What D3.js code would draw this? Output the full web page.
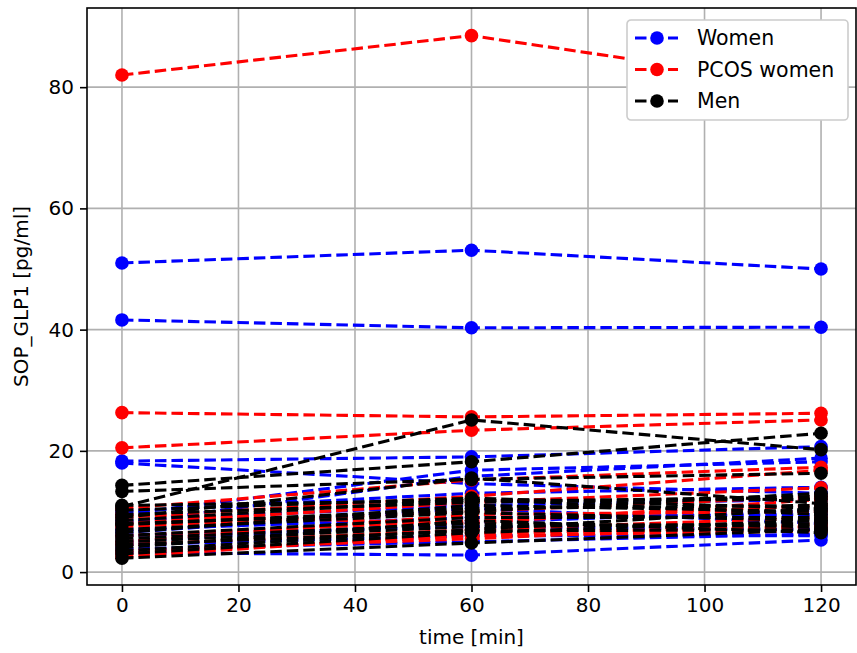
<!DOCTYPE html>
<html>
<head>
<meta charset="utf-8">
<script src="https://cdn.jsdelivr.net/npm/d3@7"></script>
<style>
  body { margin: 0; background: #fff; }
  text { font-family: "DejaVu Sans", sans-serif; }
</style>
</head>
<body>
<div id="chart-area"></div>
<script>
// time points and per-subject values [0, 60, 120 min]
const times = [0, 60, 120]
const xTicks = [0, 20, 40, 60, 80, 100, 120]
const yTicks = [0, 20, 40, 60, 80]

const women = [
  [51.0, 53.1, 50.0],
  [41.6, 40.3, 40.4],
  [18.3, 19.0, 20.7],
  [18.0, 14.6, 13.0],
  [9.5, 16.8, 18.2],
  [8.0, 15.8, 18.8],
  [3.2, 2.8, 5.3],
  [4.5, 6.0, 6.0],
  [6.0, 7.5, 7.0],
  [7.0, 9.0, 9.5],
  [5.0, 8.2, 10.2],
  [8.5, 11.0, 12.0],
  [3.8, 5.0, 6.3],
  [10.0, 13.0, 14.0],
  [6.5, 10.5, 8.0]
]

const pcos = [
  [82.0, 88.5, 80.0],
  [26.3, 25.6, 26.2],
  [20.5, 23.4, 25.1],
  [10.5, 15.2, 17.3],
  [9.0, 12.5, 16.8],
  [3.5, 5.5, 8.0],
  [2.5, 6.4, 7.5],
  [4.5, 7.0, 9.0],
  [6.0, 8.5, 11.0],
  [7.5, 10.0, 12.5],
  [8.0, 11.5, 13.9],
  [5.0, 9.5, 10.0],
  [3.0, 6.0, 6.8],
  [9.5, 8.0, 12.0]
]

const men = [
  [10.8, 25.1, 20.2],
  [14.3, 18.2, 22.9],
  [13.3, 15.3, 16.3],
  [9.0, 15.5, 11.3],
  [2.3, 4.8, 7.0],
  [10.2, 12.2, 10.5],
  [9.5, 11.5, 12.5],
  [8.5, 12.0, 9.5],
  [7.8, 10.5, 11.0],
  [7.0, 9.8, 8.5],
  [6.5, 11.0, 10.0],
  [6.0, 9.0, 9.0],
  [5.5, 8.0, 7.5],
  [5.0, 7.5, 8.0],
  [4.5, 6.8, 7.0],
  [4.0, 8.5, 6.5],
  [3.5, 7.0, 10.5],
  [3.0, 6.5, 8.5],
  [11.0, 11.8, 12.0],
  [8.0, 10.0, 13.0]
]

const groups = [
  { name: "Women", color: "blue", rows: women },
  { name: "PCOS women", color: "red", rows: pcos },
  { name: "Men", color: "black", rows: men }
]

const W = 857, H = 653
const MARGIN = { LEFT: 87, RIGHT: 1, TOP: 8, BOTTOM: 68 }
const WIDTH = W - MARGIN.LEFT - MARGIN.RIGHT
const HEIGHT = H - MARGIN.TOP - MARGIN.BOTTOM
const FONT = 20
const LW = 3.1, R = 6.8

const svg = d3.select("#chart-area").append("svg")
  .attr("width", W)
  .attr("height", H)

const g = svg.append("g")
  .attr("transform", `translate(${MARGIN.LEFT}, ${MARGIN.TOP})`)

const x = d3.scaleLinear().domain([-6, 126]).range([0, WIDTH])
const y = d3.scaleLinear().domain([-2.13, 93.06]).range([HEIGHT, 0])

// grid
g.append("g").selectAll("line").data(xTicks).join("line")
  .attr("x1", d => x(d)).attr("x2", d => x(d))
  .attr("y1", 0).attr("y2", HEIGHT)
  .attr("stroke", "#b0b0b0").attr("stroke-width", 1.6)
g.append("g").selectAll("line").data(yTicks).join("line")
  .attr("y1", d => y(d)).attr("y2", d => y(d))
  .attr("x1", 0).attr("x2", WIDTH)
  .attr("stroke", "#b0b0b0").attr("stroke-width", 1.6)

svg.append("clipPath").attr("id", "clip")
  .append("rect").attr("width", WIDTH).attr("height", HEIGHT)

const plot = g.append("g").attr("clip-path", "url(#clip)")
const line = d3.line().x((d, i) => x(times[i])).y(d => y(d))

groups.forEach(grp => {
  grp.rows.forEach(row => {
    const s = plot.append("g")
    s.append("path")
      .attr("d", line(row))
      .attr("fill", "none")
      .attr("stroke", grp.color)
      .attr("stroke-width", LW)
      .attr("stroke-dasharray", "11.5,5")
    s.selectAll("circle").data(row).join("circle")
      .attr("cx", (d, i) => x(times[i]))
      .attr("cy", d => y(d))
      .attr("r", R)
      .attr("fill", grp.color)
  })
})

// axes
const xAxis = g.append("g")
  .attr("transform", `translate(0, ${HEIGHT})`)
  .call(d3.axisBottom(x).tickValues(xTicks).tickSize(7).tickPadding(6))
const yAxis = g.append("g")
  .call(d3.axisLeft(y).tickValues(yTicks).tickSize(7).tickPadding(6))
;[xAxis, yAxis].forEach(a => {
  a.select(".domain").remove()
  a.selectAll("line").attr("stroke", "#000").attr("stroke-width", 1.6)
  a.selectAll("text").attr("font-size", FONT).attr("font-family", "DejaVu Sans").attr("fill", "#000")
})

g.append("rect")
  .attr("width", WIDTH).attr("height", HEIGHT)
  .attr("fill", "none").attr("stroke", "#000").attr("stroke-width", 1.6)

// labels
g.append("text")
  .attr("x", WIDTH / 2).attr("y", HEIGHT + 59)
  .attr("font-size", FONT).attr("text-anchor", "middle")
  .text("time [min]")
g.append("text")
  .attr("transform", "rotate(-90)")
  .attr("x", -HEIGHT / 2).attr("y", -59)
  .attr("font-size", FONT).attr("text-anchor", "middle")
  .text("SOP_GLP1 [pg/ml]")

// legend
const leg = g.append("g").attr("transform", `translate(${627 - MARGIN.LEFT}, ${20 - MARGIN.TOP})`)
leg.append("rect")
  .attr("width", 221).attr("height", 100).attr("rx", 4)
  .attr("fill", "#fff")
  .attr("stroke", "#cccccc").attr("stroke-width", 1.6)
groups.forEach((grp, i) => {
  const yy = 18 + i * 31.5
  leg.append("line")
    .attr("x1", 8).attr("x2", 51).attr("y1", yy).attr("y2", yy)
    .attr("stroke", grp.color).attr("stroke-width", LW)
    .attr("stroke-dasharray", "11.5,5")
  leg.append("circle").attr("cx", 30).attr("cy", yy).attr("r", R).attr("fill", grp.color)
  leg.append("text")
    .attr("x", 70).attr("y", yy + 7)
    .attr("font-size", 20.5)
    .text(grp.name)
})
</script>
</body>
</html>
